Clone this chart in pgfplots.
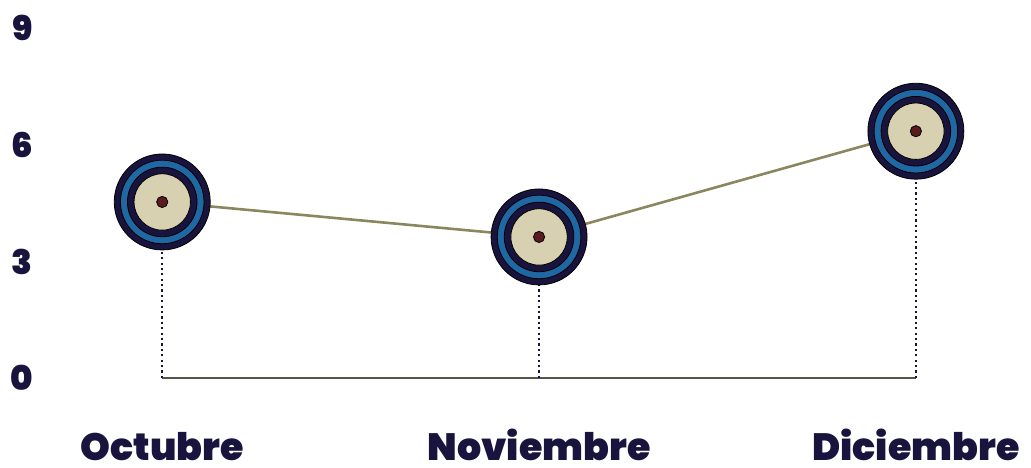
\documentclass[border=0pt]{standalone}
\usepackage{fontspec}
\setmainfont{Lato}
\newfontfamily\heavy{Poppins Black}
\usepackage{pgfplots}
\pgfplotsset{compat=1.18}
\definecolor{navy}{HTML}{18143D}
\definecolor{ringblue}{HTML}{1F68A3}
\definecolor{beige}{HTML}{D7D1B1}
\definecolor{dotred}{HTML}{5A1B1E}
\definecolor{olive}{HTML}{8C865F}
\definecolor{base}{HTML}{55534A}

\begin{document}
\begin{tikzpicture}
\begin{axis}[
    scale only axis,
    width=515.5pt, height=189pt,
    xmin=-0.43, xmax=2.305,
    ymin=0, ymax=9.72,
    clip=false,
    axis line style={draw=none},
    major tick length=0pt,
    xtick={0,1,2},
    xticklabels={Octubre, Noviembre, Diciembre},
    ytick={0,3,6,9},
    /pgf/number format/assume math mode=true,
    xticklabel style={font=\heavy\fontsize{19}{19}\selectfont\color{navy},
        anchor=base, inner xsep=0pt, inner ysep=3.5pt, yshift=-41pt},
    yticklabel style={font=\heavy\fontsize{17}{17}\selectfont\color{navy}, anchor=center, xshift=11pt},
]
% baseline
\addplot[base, line width=1pt] coordinates {(0,0) (2,0)};
% drop lines
\addplot[ycomb, navy, line width=1.1pt, dash pattern=on 1.1pt off 1.6pt, no marks]
    coordinates {(0,4.53) (1,3.63) (2,6.35)};
% trend line
\addplot[olive, line width=1.3pt, no marks]
    coordinates {(0,4.53) (1,3.63) (2,6.35)};
% layered markers
\addplot[only marks, mark=*, mark size=24pt, mark options={fill=navy, draw=none}]
    coordinates {(0,4.53) (1,3.63) (2,6.35)};
\addplot[only marks, mark=*, mark size=20.9pt, mark options={fill=ringblue, draw=none}]
    coordinates {(0,4.53) (1,3.63) (2,6.35)};
\addplot[only marks, mark=*, mark size=17.4pt, mark options={fill=navy, draw=none}]
    coordinates {(0,4.53) (1,3.63) (2,6.35)};
\addplot[only marks, mark=*, mark size=14.1pt, mark options={fill=beige, draw=none}]
    coordinates {(0,4.53) (1,3.63) (2,6.35)};
\addplot[only marks, mark=*, mark size=2.8pt, mark options={fill=dotred, draw=none}]
    coordinates {(0,4.53) (1,3.63) (2,6.35)};
\end{axis}
\end{tikzpicture}
\end{document}
